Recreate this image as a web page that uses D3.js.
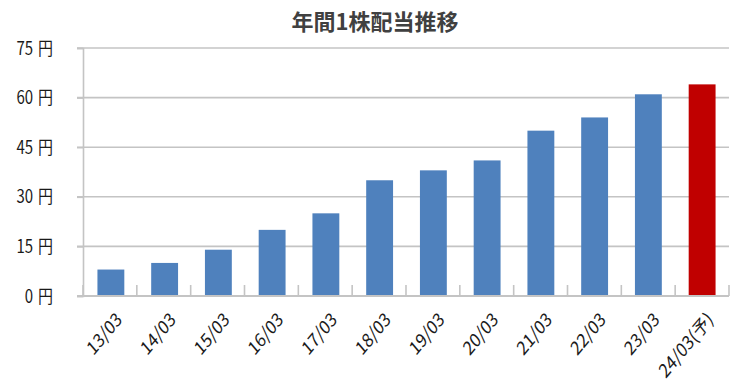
<!DOCTYPE html>
<html><head><meta charset="utf-8">
<script src="https://cdn.jsdelivr.net/npm/d3@7"></script>
<style>body{margin:0;background:#fff;}svg{display:block;}</style>
</head><body><svg id="c" width="753" height="388"></svg>
<script>
const title = "年間1株配当推移";
const categories = ["13/03","14/03","15/03","16/03","17/03","18/03","19/03","20/03","21/03","22/03","23/03","24/03(予)"];
const values = [8, 10, 14, 20, 25, 35, 38, 41, 50, 54, 61, 64];
const forecast = [false,false,false,false,false,false,false,false,false,false,false,true];
const yTicks = [0, 15, 30, 45, 60, 75];
const yUnit = "\u2004円";

const svg = d3.select("#c");
const m = {left: 84, right: 24, top: 48, bottom: 92};
const W = 753, H = 388;
const x = d3.scaleBand().domain(categories).range([m.left, W - m.right]).paddingInner(0.5).paddingOuter(0.25);
const y = d3.scaleLinear().domain([0, 75]).range([H - m.bottom, m.top]);
const font = "'Noto Sans CJK JP','Noto Sans',sans-serif";
const grid = "#c4c4c4";

svg.append("text").attr("x", 375).attr("y", 30).attr("text-anchor", "middle")
  .attr("font-family", font).attr("font-weight", "bold").attr("font-size", 22).attr("fill", "#404040").text(title);

// gridlines
svg.append("g").selectAll("line").data(yTicks.filter(d => d > 0)).join("line")
  .attr("x1", m.left - 7).attr("x2", W - m.right)
  .attr("y1", d => y(d)).attr("y2", d => y(d))
  .attr("stroke", grid).attr("stroke-width", 1.6);

// y axis
const ya = svg.append("g").attr("transform", `translate(${m.left - 1},0)`)
  .call(d3.axisLeft(y).tickValues(yTicks).tickSize(6).tickFormat(d => d + yUnit));
ya.select(".domain").attr("stroke", grid).attr("stroke-width", 1.6);
ya.selectAll(".tick line").attr("stroke", grid).attr("stroke-width", 1.6);
ya.selectAll("text").attr("font-family", font).attr("font-size", 15).attr("fill", "#1a1a1a")
  .attr("text-anchor", "end").attr("x", -30).attr("dy", "0.34em")
  .attr("transform", "scale(1,1.2)");

// bars
svg.append("g").selectAll("rect").data(categories).join("rect")
  .attr("x", d => x(d)).attr("width", x.bandwidth())
  .attr("y", (d, i) => y(values[i])).attr("height", (d, i) => y(0) - y(values[i]))
  .attr("fill", (d, i) => forecast[i] ? "#C00000" : "#4F81BD");

// x axis
const xa = svg.append("g").attr("transform", `translate(0,${y(0)})`);
const x0 = m.left - 1, x1 = W - m.right;
const bounds = d3.range(categories.length + 1).map(i => x0 + (x1 - x0) * i / categories.length);
xa.append("line").attr("x1", m.left - 7).attr("x2", x1).attr("y1", 0).attr("y2", 0)
  .attr("stroke", grid).attr("stroke-width", 2);
xa.selectAll(".tk").data(bounds).join("line").attr("class", "tk")
  .attr("x1", d => d).attr("x2", d => d).attr("y1", 0).attr("y2", -11)
  .attr("stroke", grid).attr("stroke-width", 1.6);
xa.selectAll(".lb").data(categories).join("text").attr("class", "lb")
  .attr("transform", d => `translate(${x(d) + x.bandwidth() / 2 + 4},${15}) scale(1,1.2) rotate(-45)`)
  .attr("text-anchor", "end").attr("dy", "0.72em")
  .attr("font-family", font).attr("font-size", 16).attr("fill", "#1a1a1a").text(d => d);
</script></body></html>
